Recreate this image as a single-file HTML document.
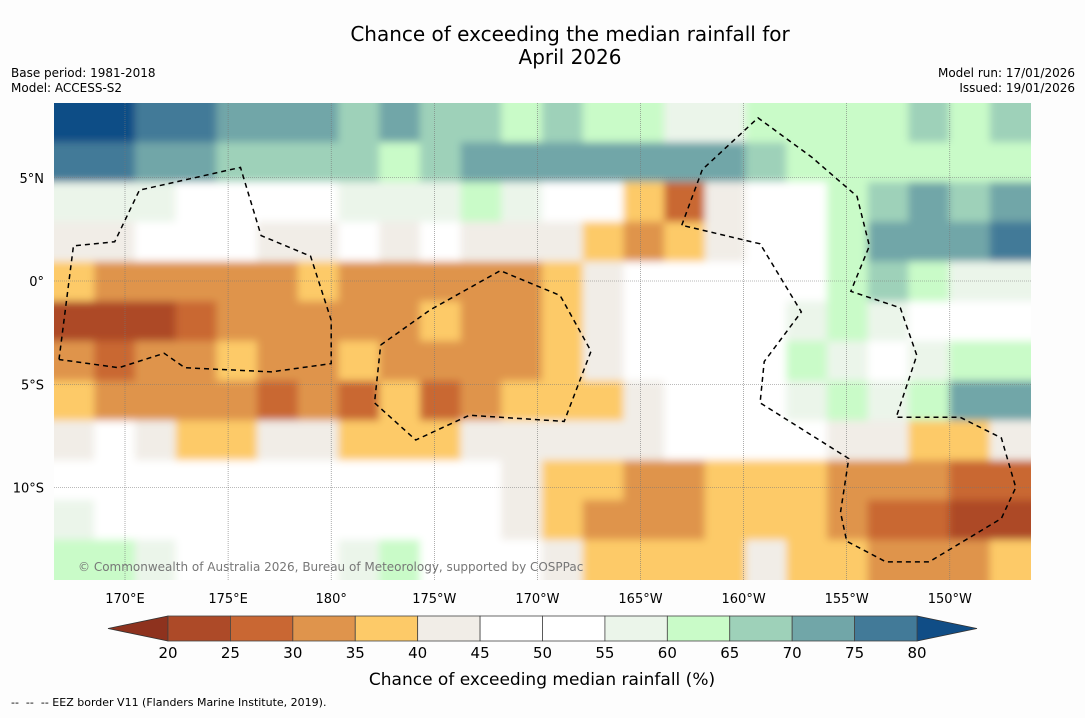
<!DOCTYPE html>
<html><head><meta charset="utf-8"><style>
body{margin:0;background:#fdfdfd;font-family:"Liberation Sans","DejaVu Sans",sans-serif}
svg text{font-family:"DejaVu Sans","Liberation Sans",sans-serif}
</style></head><body>
<svg id="chart" width="1085" height="713" viewBox="0 0 1085 713">
<rect width="1085" height="713" fill="#fdfdfd"/>
<text x="570" y="41" font-size="20" text-anchor="middle">Chance of exceeding the median rainfall for</text>
<text x="570" y="64" font-size="20" text-anchor="middle">April 2026</text>
<text x="11" y="77" font-size="12">Base period: 1981-2018</text>
<text x="11" y="92" font-size="12">Model: ACCESS-S2</text>
<text x="1075" y="77" font-size="12" text-anchor="end">Model run: 17/01/2026</text>
<text x="1075" y="92" font-size="12" text-anchor="end">Issued: 19/01/2026</text>
<g id="map"></g>
<g id="cbar"></g>
<text x="542" y="685" font-size="17" text-anchor="middle">Chance of exceeding median rainfall (%)</text>
<text x="11" y="706" font-size="11">--&#160;&#160;--&#160;&#160;-- EEZ border V11 (Flanders Marine Institute, 2019).</text>
</svg>
<script>
const lonTicks=["170°E","175°E","180°","175°W","170°W","165°W","160°W","155°W","150°W"];
const lonVals=[170,175,180,185,190,195,200,205,210];
const latTicks=["5°N","0°","5°S","10°S"];
const latVals=[5,0,-5,-10];
const binEdges=[20,25,30,35,40,45,50,55,60,65,70,75,80];
const binColors=["#8e321e","#ad4a28","#c96733","#df944c","#fdca68","#f1ede7","#ffffff","#ffffff","#ebf5ea","#c9fbc8","#9ed1b9","#71a6a8","#427a98","#104d86"];
const grid=[
[82,80,78,76,74,72,70,68,72,68,66,64,66,64,62,58,58,62,60,62,64,66,64,66],
[76,76,72,70,68,66,66,66,62,68,72,72,72,70,70,74,70,66,64,60,62,60,62,60],
[58,56,56,54,52,50,52,58,56,58,60,58,52,48,36,26,44,50,52,60,66,70,68,70],
[44,42,46,46,46,44,44,46,44,46,44,44,42,38,34,38,44,50,54,64,70,74,74,76],
[36,34,30,30,32,34,36,34,30,34,30,32,36,42,46,48,50,52,54,62,66,62,56,58],
[24,22,24,28,32,30,30,30,34,36,34,34,38,42,46,48,50,50,56,60,56,54,50,52],
[32,28,32,34,36,34,34,36,34,34,30,34,38,44,46,48,50,54,60,58,54,56,60,62],
[36,32,30,30,30,26,30,28,36,28,34,36,38,38,42,46,48,52,56,60,58,62,70,74],
[44,46,42,38,38,40,40,38,38,38,40,42,44,44,44,46,48,50,46,40,40,38,38,40],
[48,48,46,46,46,46,48,50,50,48,46,42,38,38,34,34,36,38,36,32,30,30,28,28],
[56,54,50,48,48,48,50,50,50,48,46,44,36,34,30,32,36,36,38,34,28,28,24,22],
[62,60,56,52,50,50,52,58,62,50,48,46,40,38,36,36,38,40,38,36,34,30,30,36]];
const eezLeft=[[166.8,-3.8],[167.5,1.7],[169.5,1.9],[170.7,4.4],[175.6,5.5],[176.6,2.2],[179,1.2],[180,-1.9],[180,-4],[177.1,-4.4],[172.9,-4.2],[171.9,-3.5],[169.7,-4.2],[166.8,-3.8]];
const eezMid=[[182.4,-3.1],[184.8,-1.4],[188.2,0.5],[191.1,-0.7],[192.6,-3.4],[191.3,-6.8],[186.7,-6.5],[184.1,-7.7],[182.1,-5.9],[182.4,-3.1]];
const eezRight=[[197,2.7],[198,5.4],[200.7,7.9],[203.3,6],[205.5,4.1],[206.1,1.7],[205.2,-0.5],[207.6,-1.3],[208.4,-3.6],[207.4,-6.6],[210.5,-6.6],[212.5,-7.6],[213.2,-10],[212.5,-11.5],[209,-13.6],[206.9,-13.6],[205,-12.6],[204.7,-11.2],[205.1,-8.6],[200.8,-5.9],[201,-3.9],[202.8,-1.5],[200.8,1.8],[197,2.7]];
const NS="http://www.w3.org/2000/svg";
const X0=54,X1=1031,Y0=103,Y1=580;
const xScale=lon=>125+(lon-170)*20.62;
const yScale=lat=>281-lat*20.65;
function colorFor(v){if(v<binEdges[0])return binColors[0];for(let i=1;i<binEdges.length;i++){if(v<binEdges[i])return binColors[i];}return binColors[binColors.length-1];}
const map=document.getElementById('map');
function mk(t,a,p){const e=document.createElementNS(NS,t);for(const k in a)e.setAttribute(k,a[k]);(p||map).appendChild(e);return e;}
const defs=mk('defs',{});
const cp=mk('clipPath',{id:'clip'},defs);mk('rect',{x:X0,y:Y0,width:X1-X0,height:Y1-Y0},cp);
const flt=mk('filter',{id:'bl',x:'-5%',y:'-5%',width:'110%',height:'110%'},defs);mk('feGaussianBlur',{stdDeviation:'4'},flt);
const outer=mk('g',{'clip-path':'url(#clip)'});
const cells=mk('g',{filter:'url(#bl)'},outer);
const rows=grid.length,cols=grid[0].length,cw=(X1-X0)/cols,ch=(Y1-Y0)/rows;
grid.forEach((row,r)=>row.forEach((v,c)=>{
 let x=X0+c*cw-0.5,y=Y0+r*ch-0.5,w=cw+1,h=ch+1;
 if(c===0){x-=12;w+=12;} if(c===cols-1){w+=12;}
 if(r===0){y-=12;h+=12;} if(r===rows-1){h+=12;}
 const e=mk('rect',{x:x,y:y,width:w,height:h,fill:colorFor(v)},cells);
 
 
}));
lonVals.forEach((lon,i)=>{const x=xScale(lon);
 const l=mk('line',{x1:x,x2:x,y1:Y0,y2:Y1,stroke:'#777','stroke-width':0.6,'stroke-dasharray':'1,1'});
 
 
 const t=mk('text',{x:x,y:603,'font-size':13,'text-anchor':'middle'});t.textContent=lonTicks[i];
 
 
});
latVals.forEach((lat,i)=>{const y=yScale(lat);
 const l=mk('line',{x1:X0,x2:X1,y1:y,y2:y,stroke:'#777','stroke-width':0.6,'stroke-dasharray':'1,1'});
 
 
 const t=mk('text',{x:44,y:y+5,'font-size':13,'text-anchor':'end'});t.textContent=latTicks[i];
 
 
});
[eezLeft,eezMid,eezRight].forEach(pts=>{
 const p=mk('polyline',{points:pts.map(q=>xScale(q[0])+','+yScale(q[1])).join(' '),fill:'none',stroke:'#000','stroke-width':1.5,'stroke-dasharray':'5,4','clip-path':'url(#clip)'});
 
 
});
const cr=mk('text',{x:78,y:571,'font-size':12,fill:'#777'});cr.textContent='© Commonwealth of Australia 2026, Bureau of Meteorology, supported by COSPPac';


const cb=document.getElementById('cbar');
const CB0=168,CB1=917,CBY=616,CBH=25,sw=(CB1-CB0)/(binEdges.length-1);
const la=mk('polygon',{points:`${CB0},${CBY} ${CB0},${CBY+CBH} 108,${CBY+CBH/2}`,fill:binColors[0],stroke:'#333','stroke-width':0.8},cb);

const ra=mk('polygon',{points:`${CB1},${CBY} ${CB1},${CBY+CBH} 977,${CBY+CBH/2}`,fill:binColors[13],stroke:'#333','stroke-width':0.8},cb);

for(let i=0;i<binEdges.length-1;i++){
 const r=mk('rect',{x:CB0+i*sw,y:CBY,width:sw,height:CBH,fill:binColors[i+1],stroke:'#444','stroke-width':0.8},cb);
 
 
}
binEdges.forEach((v,i)=>{const t=mk('text',{x:CB0+i*sw,y:658,'font-size':15,'text-anchor':'middle'},cb);t.textContent=v;
 
 });
</script>
</body></html>
